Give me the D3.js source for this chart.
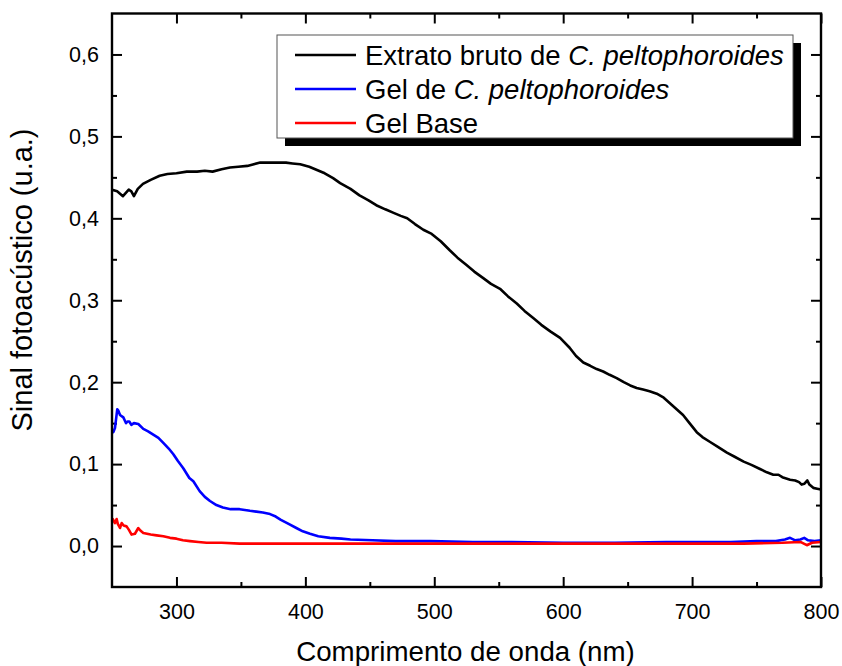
<!DOCTYPE html>
<html>
<head>
<meta charset="utf-8">
<script src="https://cdn.jsdelivr.net/npm/d3@7"></script>
<style>
  html, body { margin: 0; padding: 0; background: #fff; }
  svg { display: block; font-family: Arial, "Liberation Sans", sans-serif; }
</style>
</head>
<body>
<svg id="chart" width="842" height="666"></svg>
<script>
// ---- data ----
const blackX = [250,254,258.5,263,265,267,270,274,280,287,293,300,308,316,322,328,335,341.5,348,355,360,365,372,378,385,390,396,403,409,415,421.5,427,435,442,449,455,462,468,474,479,485,491.5,498,505,512,518,525,531,538,544,551,557,564,570,577,583,590,597.6,605,610,615.6,621,626,631,636,641.5,647,652,657,662,667,672.6,678,683,688,693,698,703.6,708,714,720,727,733,740,746,752.7,758,763,767,770,776,780,783,785,787,789.4,791,794,797,800];
const blackY = [0.435,0.433,0.427,0.435,0.433,0.427,0.436,0.442,0.447,0.452,0.454,0.455,0.457,0.457,0.458,0.457,0.460,0.462,0.463,0.464,0.466,0.468,0.468,0.468,0.468,0.467,0.466,0.463,0.459,0.455,0.449,0.443,0.436,0.428,0.422,0.416,0.411,0.407,0.403,0.400,0.393,0.386,0.381,0.372,0.361,0.352,0.343,0.335,0.327,0.320,0.314,0.305,0.296,0.287,0.278,0.270,0.262,0.254,0.242,0.232,0.224,0.220,0.216,0.213,0.209,0.205,0.200,0.196,0.193,0.191,0.189,0.186,0.181,0.174,0.167,0.160,0.150,0.139,0.133,0.127,0.121,0.114,0.109,0.103,0.099,0.094,0.090,0.087,0.087,0.084,0.081,0.080,0.078,0.075,0.076,0.080,0.075,0.071,0.070,0.069];

const blueX = [250,251,252.3,254.1,255,256.2,258.8,260,260.9,262,263.4,265,267,270.4,274.3,278,282,286,289.8,294,297.6,301,305.3,310,313.1,318,322,326,331,336,342,349,357,362,367,372.6,377,381,387,393,398,403.6,410,419,428,435,452,470,497,530,560,600,640,680,700,730,750,765,772,776,780,784,787,790,795,800];
const blueY = [0.140,0.139,0.144,0.167,0.165,0.160,0.157,0.153,0.150,0.152,0.152,0.148,0.150,0.149,0.143,0.140,0.136,0.132,0.126,0.119,0.112,0.104,0.095,0.083,0.079,0.067,0.060,0.055,0.050,0.047,0.045,0.045,0.043,0.042,0.041,0.039,0.036,0.032,0.027,0.022,0.018,0.015,0.012,0.010,0.009,0.008,0.007,0.006,0.006,0.005,0.005,0.004,0.004,0.005,0.005,0.005,0.006,0.006,0.008,0.010,0.007,0.008,0.010,0.007,0.006,0.007];

const redX = [250,250.5,252.3,253.6,254.5,256.2,257.5,259,261.3,263,265.2,267.8,270.4,272,274.3,280,284.6,289.8,295,300,305,310.5,317,323.4,335,349,370,388,410,435,470,500,540,580,620,660,700,740,770,784,789,793,800];
const redY = [0.030,0.033,0.028,0.033,0.027,0.022,0.028,0.025,0.024,0.020,0.014,0.015,0.022,0.019,0.016,0.014,0.013,0.012,0.010,0.009,0.007,0.006,0.005,0.004,0.004,0.003,0.003,0.003,0.003,0.003,0.003,0.003,0.003,0.003,0.003,0.003,0.003,0.003,0.004,0.005,0.001,0.004,0.005];

const seriesNames = ["Extrato bruto de ", "Gel de ", "Gel Base"];
const seriesItalic = ["C. peltophoroides", "C. peltophoroides", ""];
const seriesColors = ["#000000", "#0000ff", "#ff0000"];

const xMajorTicks = [300,400,500,600,700,800];
const xMinorTicks = [350,450,550,650,750];
const yMajorTicks = [0.0,0.1,0.2,0.3,0.4,0.5,0.6];
const yMinorTicks = [0.05,0.15,0.25,0.35,0.45,0.55];

const xTitle = "Comprimento de onda (nm)";
const yTitle = "Sinal fotoacústico (u.a.)";

// ---- layout ----
const L = 112, R = 821, T = 13.5, B = 587;
const svg = d3.select("#chart");
const x = d3.scaleLinear().domain([250, 800]).range([L, R]);
const y = d3.scaleLinear().domain([-0.05, 0.65]).range([B, T]);
const fmt = v => d3.format(".1f")(v).replace(".", ",");

function styleAxis(g) {
  g.select(".domain").remove();
  g.selectAll(".tick line").attr("stroke", "#000").attr("stroke-width", 2);
  g.selectAll(".tick text").attr("fill", "#000").attr("font-size", 21.5)
    .attr("font-family", "Arial, 'Liberation Sans', sans-serif");
}

// bottom
svg.append("g").attr("transform", `translate(0,${B})`)
  .call(d3.axisBottom(x).tickValues(xMajorTicks).tickSize(-10).tickPadding(17).tickFormat(d3.format("d")))
  .call(styleAxis);
svg.append("g").attr("transform", `translate(0,${B})`)
  .call(d3.axisBottom(x).tickValues(xMinorTicks).tickSize(-5).tickFormat(""))
  .call(styleAxis);
// top
svg.append("g").attr("transform", `translate(0,${T})`)
  .call(d3.axisTop(x).tickValues(xMajorTicks).tickSize(-10).tickFormat(""))
  .call(styleAxis);
svg.append("g").attr("transform", `translate(0,${T})`)
  .call(d3.axisTop(x).tickValues(xMinorTicks).tickSize(-5).tickFormat(""))
  .call(styleAxis);
// left
svg.append("g").attr("transform", `translate(${L},0)`)
  .call(d3.axisLeft(y).tickValues(yMajorTicks).tickSize(-10).tickPadding(13).tickFormat(fmt))
  .call(styleAxis);
svg.append("g").attr("transform", `translate(${L},0)`)
  .call(d3.axisLeft(y).tickValues(yMinorTicks).tickSize(-5).tickFormat(""))
  .call(styleAxis);
// right
svg.append("g").attr("transform", `translate(${R},0)`)
  .call(d3.axisRight(y).tickValues(yMajorTicks).tickSize(-10).tickFormat(""))
  .call(styleAxis);
svg.append("g").attr("transform", `translate(${R},0)`)
  .call(d3.axisRight(y).tickValues(yMinorTicks).tickSize(-5).tickFormat(""))
  .call(styleAxis);

// lines
const line = d3.line().x(d => x(d[0])).y(d => y(d[1]));
const series = [
  blackX.map((v, i) => [v, blackY[i]]),
  blueX.map((v, i) => [v, blueY[i]]),
  redX.map((v, i) => [v, redY[i]])
];
series.forEach((s, i) => {
  svg.append("path").datum(s).attr("d", line)
    .attr("fill", "none").attr("stroke", seriesColors[i])
    .attr("stroke-width", 2.6).attr("stroke-linejoin", "round");
});

// frame
svg.append("rect").attr("x", L).attr("y", T).attr("width", R - L).attr("height", B - T)
  .attr("fill", "none").attr("stroke", "#000").attr("stroke-width", 2.4);

// legend
const lgX = 277, lgY = 35, lgW = 516, lgH = 103;
svg.append("rect").attr("x", lgX + 8).attr("y", lgY + 8).attr("width", lgW).attr("height", lgH).attr("fill", "#000");
svg.append("rect").attr("x", lgX).attr("y", lgY).attr("width", lgW).attr("height", lgH)
  .attr("fill", "#fff").attr("stroke", "#555").attr("stroke-width", 1);
seriesNames.forEach((name, i) => {
  const ly = 55 + i * 34;
  svg.append("line").attr("x1", 295).attr("x2", 356).attr("y1", ly).attr("y2", ly)
    .attr("stroke", seriesColors[i]).attr("stroke-width", 2.6);
  const t = svg.append("text").attr("x", 365).attr("y", ly + 9.5)
    .attr("font-size", 27.5).attr("fill", "#000");
  t.append("tspan").text(name);
  if (seriesItalic[i]) t.append("tspan").attr("font-style", "italic").text(seriesItalic[i]);
});

// axis titles
svg.append("text").attr("x", (L + R) / 2 - 1).attr("y", 661).attr("text-anchor", "middle")
  .attr("font-size", 27.7).attr("fill", "#000").text(xTitle);
svg.append("text").attr("transform", `translate(32,280) rotate(-90)`)
  .attr("text-anchor", "middle").attr("font-size", 29).attr("fill", "#000").text(yTitle);
</script>
</body>
</html>
